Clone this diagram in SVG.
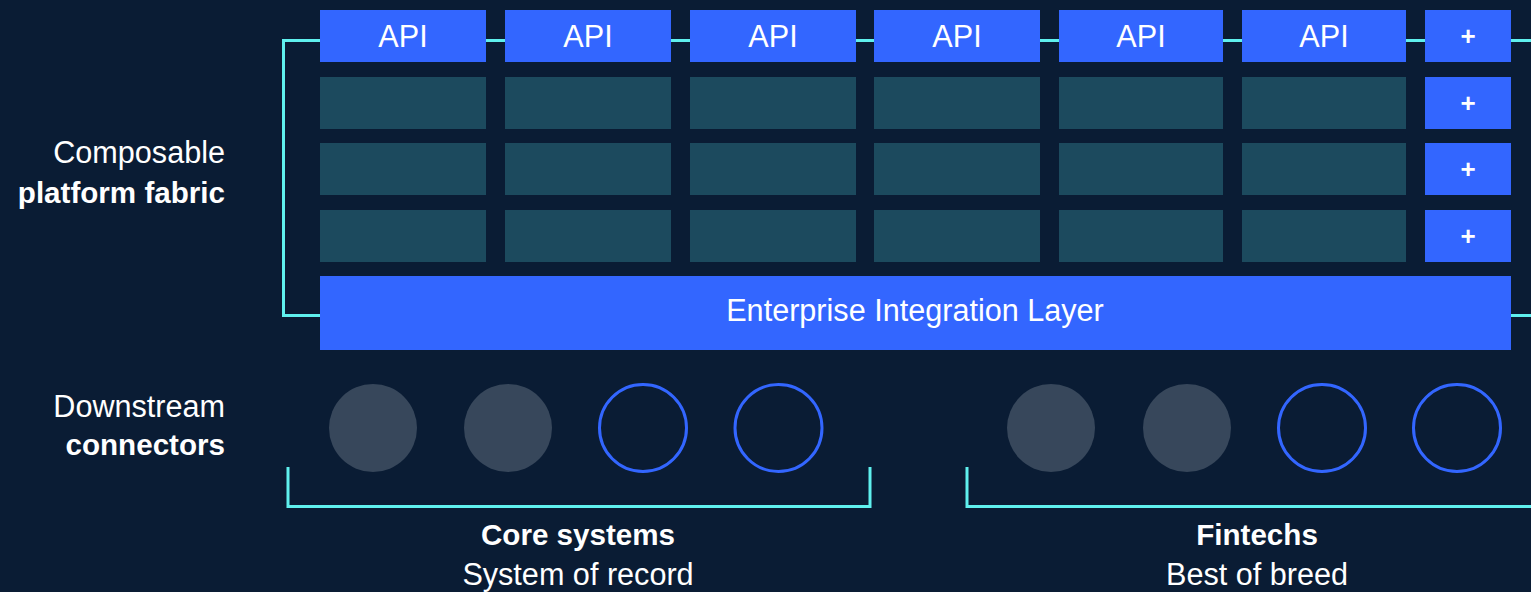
<svg xmlns="http://www.w3.org/2000/svg" width="1531" height="592" viewBox="0 0 1531 592">
<style>
text{font-family:"Liberation Sans",Arial,sans-serif;fill:#ffffff;font-size:30.6px}
.b{font-weight:bold;font-size:29.6px}
.api{fill:#3366ff}
.cell{fill:#1c4a5e}
.ctr{text-anchor:middle}
.end{text-anchor:end}
.plus{font-weight:bold;font-size:26px;text-anchor:middle}
.line{fill:none;stroke:#5ff0ee;stroke-width:3}
.core{fill:#37475b}
.ring{fill:none;stroke:#3366ff;stroke-width:3}
</style>
<rect width="1531" height="592" fill="#0a1c34"/>
<g id="connectors">
<polyline class="line" points="1531,40.5 283.5,40.5 283.5,315.5 320,315.5"/>
<line class="line" x1="1511" y1="315.5" x2="1531" y2="315.5"/>
<polyline class="line" points="288,467 288,506.5 870,506.5 870,467"/>
<polyline class="line" points="967,467 967,506.5 1531,506.5"/>
</g>
<g id="label-platform">
<text class="end" x="225" y="163">Composable</text>
<text class="end b" x="225" y="203">platform fabric</text>
</g>
<g id="label-downstream">
<text class="end" x="225" y="417">Downstream</text>
<text class="end b" x="225" y="455">connectors</text>
</g>
<g id="api-1"><rect class="api" x="320" y="10" width="166" height="52"/><text class="ctr" x="403" y="47">API</text></g>
<g id="api-2"><rect class="api" x="505" y="10" width="166" height="52"/><text class="ctr" x="588" y="47">API</text></g>
<g id="api-3"><rect class="api" x="690" y="10" width="166" height="52"/><text class="ctr" x="773" y="47">API</text></g>
<g id="api-4"><rect class="api" x="874" y="10" width="166" height="52"/><text class="ctr" x="957" y="47">API</text></g>
<g id="api-5"><rect class="api" x="1059" y="10" width="164" height="52"/><text class="ctr" x="1141" y="47">API</text></g>
<g id="api-6"><rect class="api" x="1242" y="10" width="164" height="52"/><text class="ctr" x="1324" y="47">API</text></g>
<g id="plus-1"><rect class="api" x="1425" y="10" width="86" height="52"/><text class="plus" x="1468" y="45">+</text></g>
<g id="plus-2"><rect class="api" x="1425" y="77" width="86" height="52"/><text class="plus" x="1468" y="112">+</text></g>
<g id="plus-3"><rect class="api" x="1425" y="143" width="86" height="52"/><text class="plus" x="1468" y="178">+</text></g>
<g id="plus-4"><rect class="api" x="1425" y="210" width="86" height="52"/><text class="plus" x="1468" y="245">+</text></g>
<g id="cells">
<rect class="cell" x="320" y="77" width="166" height="52"/><rect class="cell" x="505" y="77" width="166" height="52"/><rect class="cell" x="690" y="77" width="166" height="52"/><rect class="cell" x="874" y="77" width="166" height="52"/><rect class="cell" x="1059" y="77" width="164" height="52"/><rect class="cell" x="1242" y="77" width="164" height="52"/>
<rect class="cell" x="320" y="143" width="166" height="52"/><rect class="cell" x="505" y="143" width="166" height="52"/><rect class="cell" x="690" y="143" width="166" height="52"/><rect class="cell" x="874" y="143" width="166" height="52"/><rect class="cell" x="1059" y="143" width="164" height="52"/><rect class="cell" x="1242" y="143" width="164" height="52"/>
<rect class="cell" x="320" y="210" width="166" height="52"/><rect class="cell" x="505" y="210" width="166" height="52"/><rect class="cell" x="690" y="210" width="166" height="52"/><rect class="cell" x="874" y="210" width="166" height="52"/><rect class="cell" x="1059" y="210" width="164" height="52"/><rect class="cell" x="1242" y="210" width="164" height="52"/>
</g>
<g id="enterprise-layer"><rect class="api" x="320" y="276" width="1191" height="74"/><text class="ctr" x="915" y="321">Enterprise Integration Layer</text></g>
<g id="core-systems">
<circle class="core" cx="373" cy="428" r="44"/>
<circle class="core" cx="508" cy="428" r="44"/>
<circle class="ring" cx="643" cy="428" r="43.5"/>
<circle class="ring" cx="778.5" cy="428" r="43.5"/>
<text class="ctr b" x="578" y="545">Core systems</text>
<text class="ctr" x="578" y="585">System of record</text>
</g>
<g id="fintechs">
<circle class="core" cx="1051" cy="428" r="44"/>
<circle class="core" cx="1187" cy="428" r="44"/>
<circle class="ring" cx="1322" cy="428" r="43.5"/>
<circle class="ring" cx="1457" cy="428" r="43.5"/>
<text class="ctr b" x="1257" y="545">Fintechs</text>
<text class="ctr" x="1257" y="585">Best of breed</text>
</g>
</svg>
